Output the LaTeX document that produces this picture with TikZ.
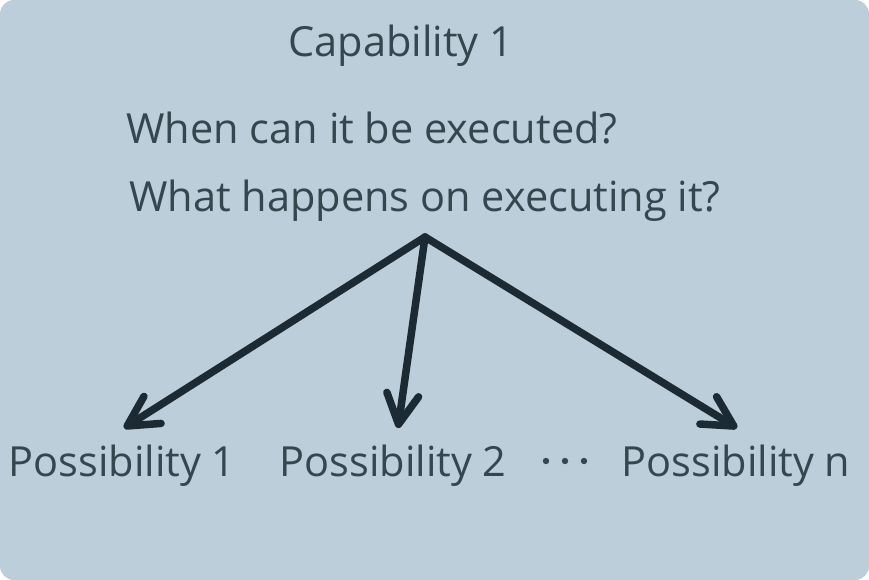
\documentclass[tikz,border=0pt]{standalone}
\usepackage{fontspec}
\setmainfont{Open Sans}
\usetikzlibrary{arrows.meta}
\definecolor{bgc}{HTML}{BBCEDA}
\definecolor{txc}{HTML}{33474F}
\definecolor{arc}{HTML}{1C2A33}
\begin{document}
\begin{tikzpicture}[x=1pt,y=-1pt,
  lbl/.style={anchor=base,inner sep=0pt,text=txc,font=\fontsize{41.5}{48}\selectfont},
  arr/.style={draw=arc,line width=7.5pt,line cap=round,
    -{Straight Barb[length=30pt,width=32pt,line cap=round,line join=round]}}]
\useasboundingbox (0,0) rectangle (869,580);
\fill[bgc,rounded corners=14pt] (0,0) rectangle (869,580);
\node[lbl] (cap) at (401,57) {Capability 1};
\node[lbl] (when) at (372,144) {When can it be executed?};
\node[lbl] (what) at (425,211) {What happens on executing it?};
\coordinate (apex) at (425,237);
\node[lbl] (p1) at (122,476) {Possibility 1};
\node[lbl] (p2) at (393,476) {Possibility 2};
\node[lbl] (pn) at (736,476) {Possibility n};
\node[anchor=center,inner sep=0pt,text=txc] (dots) at (565,461) {%
  \tikz[x=1pt,y=1pt]{\fill[txc] (0,0) circle (3.2pt) (19,0) circle (3.2pt) (38,0) circle (3.2pt);}};
\draw[arr] (apex) -- (124,428);
\draw[arr] (apex) -- (398,428);
\draw[arr] (apex) -- (737,428);
\end{tikzpicture}
\end{document}
